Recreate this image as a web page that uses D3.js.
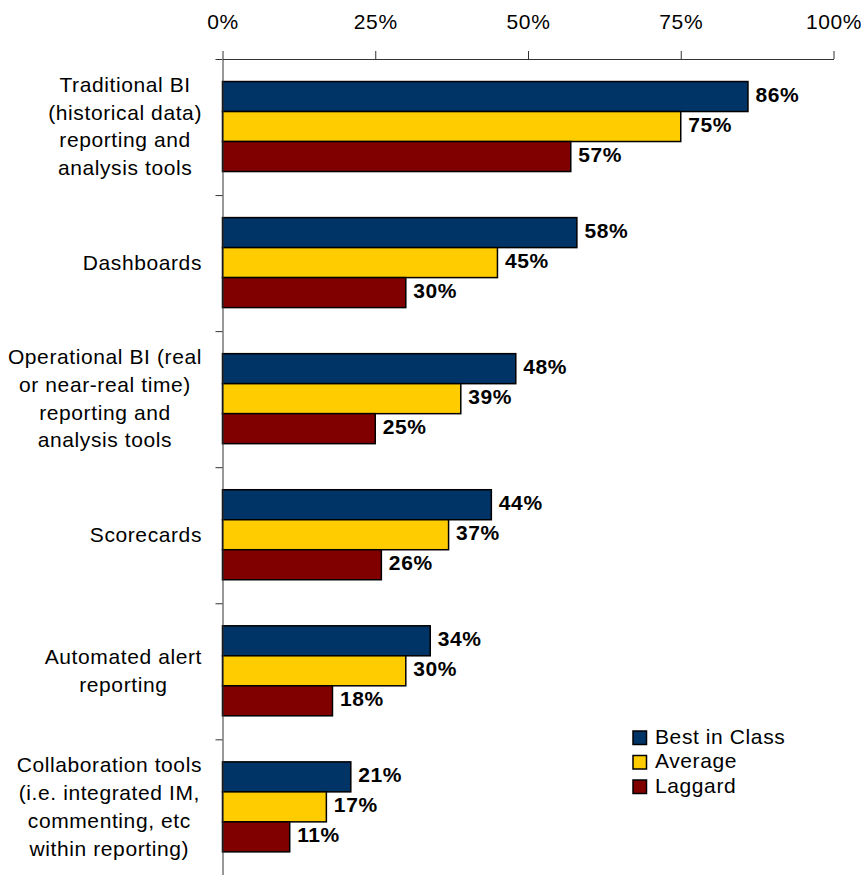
<!DOCTYPE html>
<html>
<head>
<meta charset="utf-8">
<script src="https://cdn.jsdelivr.net/npm/d3@7"></script>
<style>
  html, body { margin: 0; padding: 0; background: #fff; }
  svg { display: block; font-family: "Liberation Sans", Arial, sans-serif; }
  text { letter-spacing: 0.6px; }
</style>
</head>
<body>
<svg id="chart" width="861" height="875"></svg>
<script>
// Category labels, one entry per line of the wrapped label
const categories = [
  ["Traditional BI", "(historical data)", "reporting and", "analysis tools"],
  ["Dashboards"],
  ["Operational BI (real", "or near-real time)", "reporting and", "analysis tools"],
  ["Scorecards"],
  ["Automated alert", "reporting"],
  ["Collaboration tools", "(i.e. integrated IM,", "commenting, etc", "within reporting)"]
];
const seriesNames = ["Best in Class", "Average", "Laggard"];
const seriesColors = ["#003366", "#FFCC00", "#800000"];
const bestInClass = [0.86, 0.58, 0.48, 0.44, 0.34, 0.21];
const average     = [0.75, 0.45, 0.39, 0.37, 0.30, 0.17];
const laggard     = [0.57, 0.30, 0.25, 0.26, 0.18, 0.11];
const xTicks = [0, 0.25, 0.5, 0.75, 1];

const seriesValues = [bestInClass, average, laggard];
const svg = d3.select("#chart");

const plotLeft = 222.5, plotRight = 833.5, plotTop = 59, plotBottom = 875.4;

const x = d3.scaleLinear().domain([0, 1]).range([plotLeft, plotRight]);
const catKeys = categories.map((c, i) => i);
const y = d3.scaleBand().domain(catKeys).range([plotTop, plotBottom]).padding(0);
const groupH = 90;
const ySub = d3.scaleBand().domain(d3.range(seriesNames.length)).range([0, groupH]).padding(0);
const fmt = d3.format(".0%");

// Bars
seriesValues.forEach((vals, s) => {
  svg.append("g")
    .selectAll("rect")
    .data(vals)
    .join("rect")
      .attr("x", x(0))
      .attr("y", (d, i) => y(i) + (y.bandwidth() - groupH) / 2 - 0.5 + ySub(s))
      .attr("width", d => x(d) - x(0))
      .attr("height", ySub.bandwidth())
      .attr("fill", seriesColors[s])
      .attr("stroke", "#000")
      .attr("stroke-width", 1.5);

  // Value labels at the end of each bar
  svg.append("g")
    .selectAll("text")
    .data(vals)
    .join("text")
      .attr("x", d => x(d) + 7.5)
      .attr("y", (d, i) => y(i) + (y.bandwidth() - groupH) / 2 - 0.5 + ySub(s) + ySub.bandwidth() / 2 + 5.5)
      .attr("font-size", 21)
      .attr("font-weight", "bold")
      .attr("fill", "#000")
      .text(d => fmt(d));
});

// Top percentage axis
const xAxis = d3.axisTop(x)
  .tickValues(xTicks)
  .tickFormat(fmt)
  .tickSize(8)
  .tickSizeOuter(0)
  .tickPadding(22);
const gx = svg.append("g").attr("transform", `translate(0,${plotTop})`).call(xAxis);
gx.selectAll("path, line").attr("stroke", "#333").attr("stroke-width", 1);
gx.selectAll("text").attr("font-size", 21).attr("fill", "#000").attr("font-family", null);

// Left category axis with ticks between categories
const yEdges = d3.scaleLinear().domain([0, categories.length]).range([plotTop, plotBottom]);
const yAxis = d3.axisLeft(yEdges)
  .tickValues(d3.range(categories.length + 1))
  .tickFormat("")
  .tickSize(7)
  .tickSizeOuter(0);
const gy = svg.append("g").attr("transform", `translate(${plotLeft},0)`).call(yAxis);
gy.selectAll("path, line").attr("stroke", "#333").attr("stroke-width", 1);

// Category labels: a right-aligned block with its lines centred on one another
const lineH = 27.8;
const labelRight = 202;
categories.forEach((lines, i) => {
  const g = svg.append("g");
  const cy = y(i) + y.bandwidth() / 2;
  const texts = g.selectAll("text")
    .data(lines)
    .join("text")
      .attr("font-size", 21)
      .attr("fill", "#000")
      .attr("text-anchor", "middle")
      .attr("y", (d, k) => cy + (k - (lines.length - 1) / 2) * lineH + 6.5)
      .text(d => d);
  let maxW = 0;
  texts.each(function () { maxW = Math.max(maxW, this.getComputedTextLength()); });
  texts.attr("x", labelRight - maxW / 2);
});

// Legend
const legend = svg.append("g").attr("transform", "translate(633,731)");
seriesNames.forEach((name, s) => {
  const row = legend.append("g").attr("transform", `translate(0,${s * 24.5})`);
  row.append("rect")
    .attr("width", 13.5).attr("height", 13.5)
    .attr("fill", seriesColors[s])
    .attr("stroke", "#000").attr("stroke-width", 1.5);
  row.append("text")
    .attr("x", 22).attr("y", 12.5)
    .attr("font-size", 21).attr("fill", "#000")
    .text(name);
});
</script>
</body>
</html>
